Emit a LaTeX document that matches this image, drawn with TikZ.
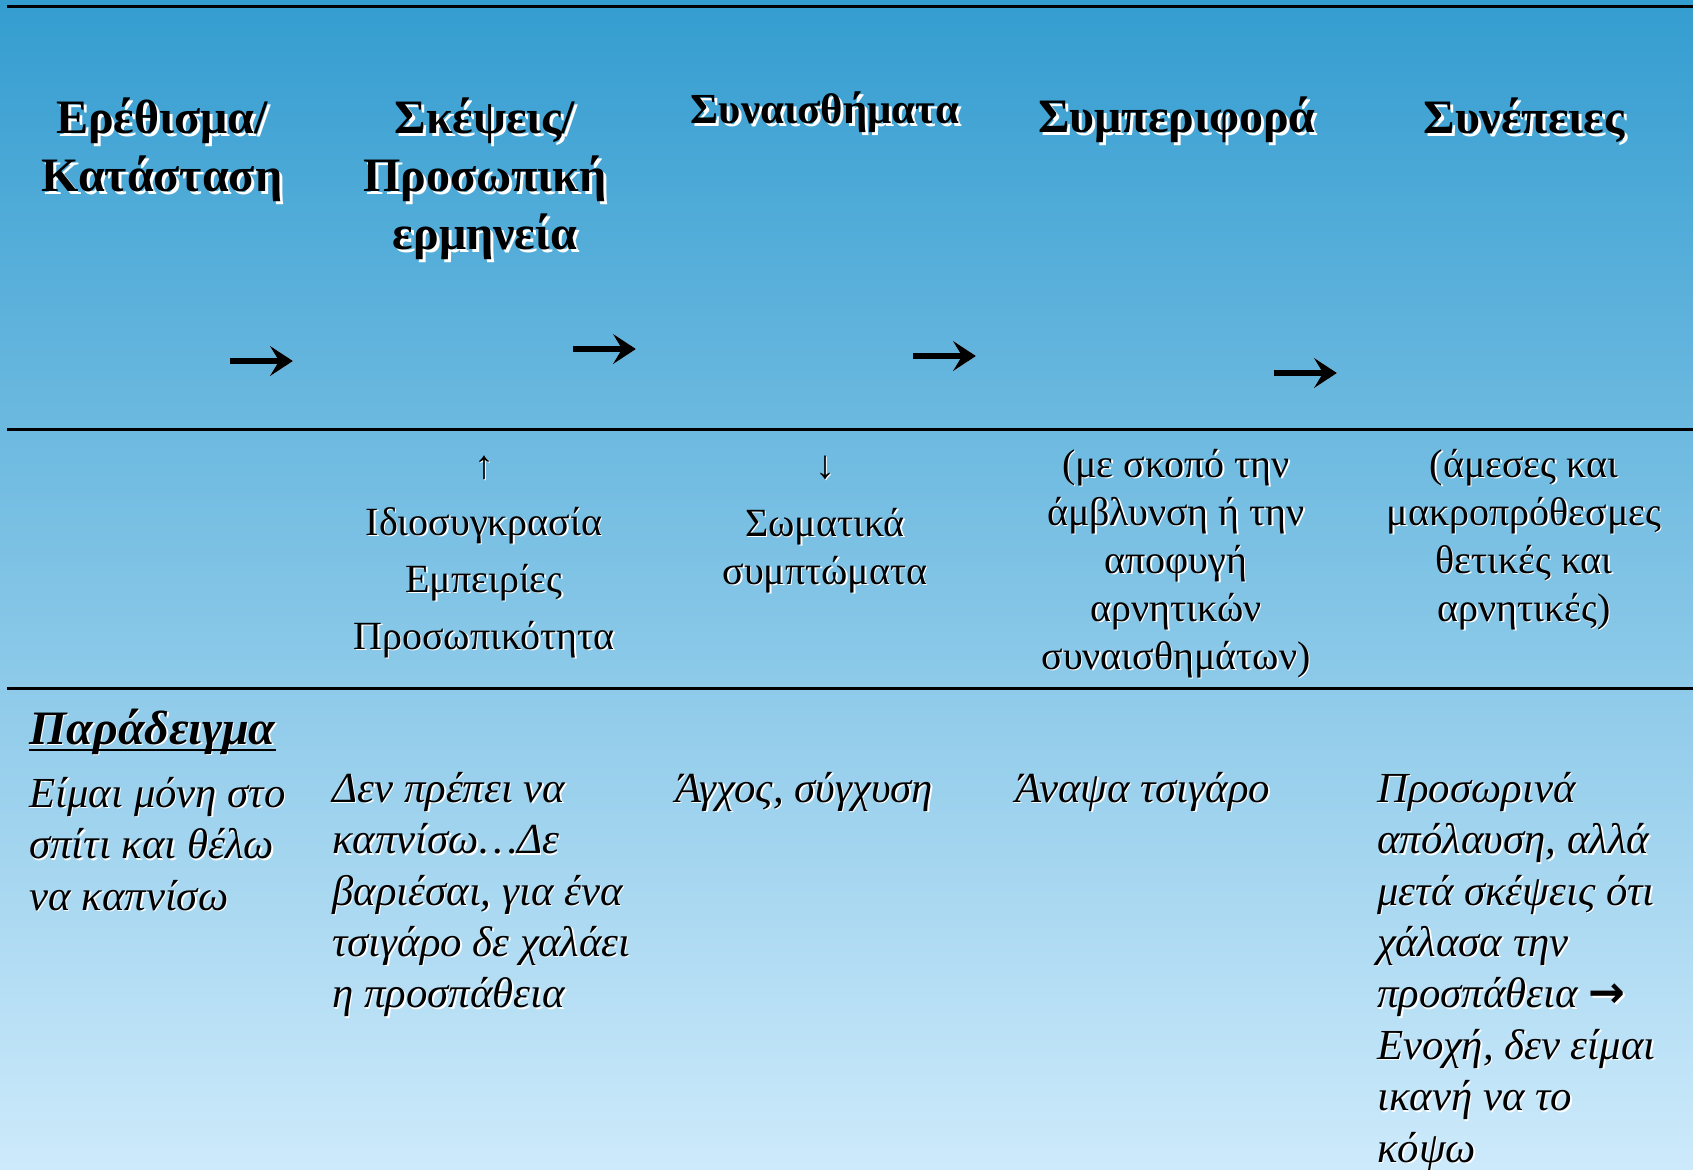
\documentclass[tikz,border=0pt]{standalone}
\usepackage{fontspec}
\setmainfont{Liberation Serif}
\newfontfamily\arrowfont{DejaVu Sans}
\usetikzlibrary{arrows.meta}
\definecolor{bgtop}{RGB}{52,157,208}
\definecolor{bgbot}{RGB}{205,234,251}
\newcommand\st{\rule{0pt}{1em}}
% shadowed text node: [offset]{style}{name}{x}{y}{text}
\newcommand\twin[6][1.5]{%
  \node[#2,text=white,shift={(#1,#1)}] (#3-s) at (#4,#5) {#6};
  \node[#2] (#3) at (#4,#5) {#6};}
% shadowed bold arrow: {name}{x start}{x end}{y}
\newcommand\harr[4]{%
  \coordinate (#1-a) at (#2,#4);
  \coordinate (#1-b) at (#3,#4);
  \draw[harrow,white,shift={(4,4)}] (#1-a) -- (#1-b);
  \draw[harrow] (#1-a) -- (#1-b);}
\begin{document}
\begin{tikzpicture}[x=0.5pt,y=-0.5pt,
  head/.style={font=\fontsize{24pt}{29pt}\selectfont\bfseries, align=center, anchor=north, inner sep=0pt},
  harrow/.style={line width=2.6pt, -{Stealth[length=11.5pt,width=15pt,inset=4.5pt]}},
  midA/.style={font=\fontsize{20pt}{28.5pt}\selectfont, align=center, anchor=north, inner sep=0pt},
  midB/.style={font=\fontsize{20pt}{24pt}\selectfont, align=center, anchor=north, inner sep=0pt},
  ex/.style={font=\fontsize{21.4pt}{25.7pt}\selectfont\itshape, align=left, anchor=north west, inner sep=0pt},
  extitle/.style={font=\fontsize{24pt}{28pt}\selectfont\bfseries\itshape, anchor=base west, inner sep=0pt},
  rule/.style={line width=1.5pt, black}]
\useasboundingbox (0,0) rectangle (1693,1169);
\shade[top color=bgtop, bottom color=bgbot] (0,0) rectangle (1693,1169);
% rules
\draw[rule] (7,6) -- (1693,6);
\draw[rule] (7,429) -- (1693,429);
\draw[rule] (7,688) -- (1693,688);
% header
\twin[3]{head}{h1}{162}{85}{\st Ερέθισμα/\\Κατάσταση}
\twin[3]{head}{h2}{485}{85}{\st Σκέψεις/\\Προσωπική\\ερμηνεία}
\twin[3]{head,font=\fontsize{21.4pt}{26pt}\selectfont\bfseries}{h3}{825}{80}{\st Συναισθήματα}
\twin[3]{head}{h4}{1177}{84}{\st Συμπεριφορά}
\twin[3]{head}{h5}{1524}{85}{\st Συνέπειες}
\harr{a1}{230}{293}{361}
\harr{a2}{573}{636}{349}
\harr{a3}{913}{976}{356}
\harr{a4}{1274}{1337}{373}
% middle row
\twin{midA}{m2}{484}{438}{\st ↑\\Ιδιοσυγκρασία\\Εμπειρίες\\Προσωπικότητα}
\twin{midB}{m3}{825}{438}{\st ↓\\[5pt]Σωματικά\\συμπτώματα}
\twin{midB}{m4}{1176}{437}{\st (με σκοπό την\\άμβλυνση ή την\\αποφυγή\\αρνητικών\\συναισθημάτων)}
\twin{midB}{m5}{1524}{437}{\st (άμεσες και\\μακροπρόθεσμες\\θετικές και\\αρνητικές)}
% example row
\twin{extitle}{pt}{29}{744}{Παράδειγμα}
\draw[line width=1.1pt] ([yshift=-3pt]pt.base west) -- ([yshift=-3pt]pt.base east);
\twin{ex}{b1}{29}{764}{\st Είμαι μόνη στο\\σπίτι και θέλω\\να καπνίσω}
\twin{ex}{b2}{332}{759}{\st Δεν πρέπει να\\καπνίσω…Δε\\βαριέσαι, για ένα\\τσιγάρο δε χαλάει\\η προσπάθεια}
\twin{ex}{b3}{675}{759}{\st Άγχος, σύγχυση}
\twin{ex}{b4}{1015}{759}{\st Άναψα τσιγάρο}
\twin{ex}{b5}{1377}{759}{\st Προσωρινά\\απόλαυση, αλλά\\μετά σκέψεις ότι\\χάλασα την\\προσπάθεια {\upshape\arrowfont\bfseries\fontsize{22pt}{25.7pt}\selectfont →}\\Ενοχή, δεν είμαι\\ικανή να το\\κόψω}
\end{tikzpicture}
\end{document}
